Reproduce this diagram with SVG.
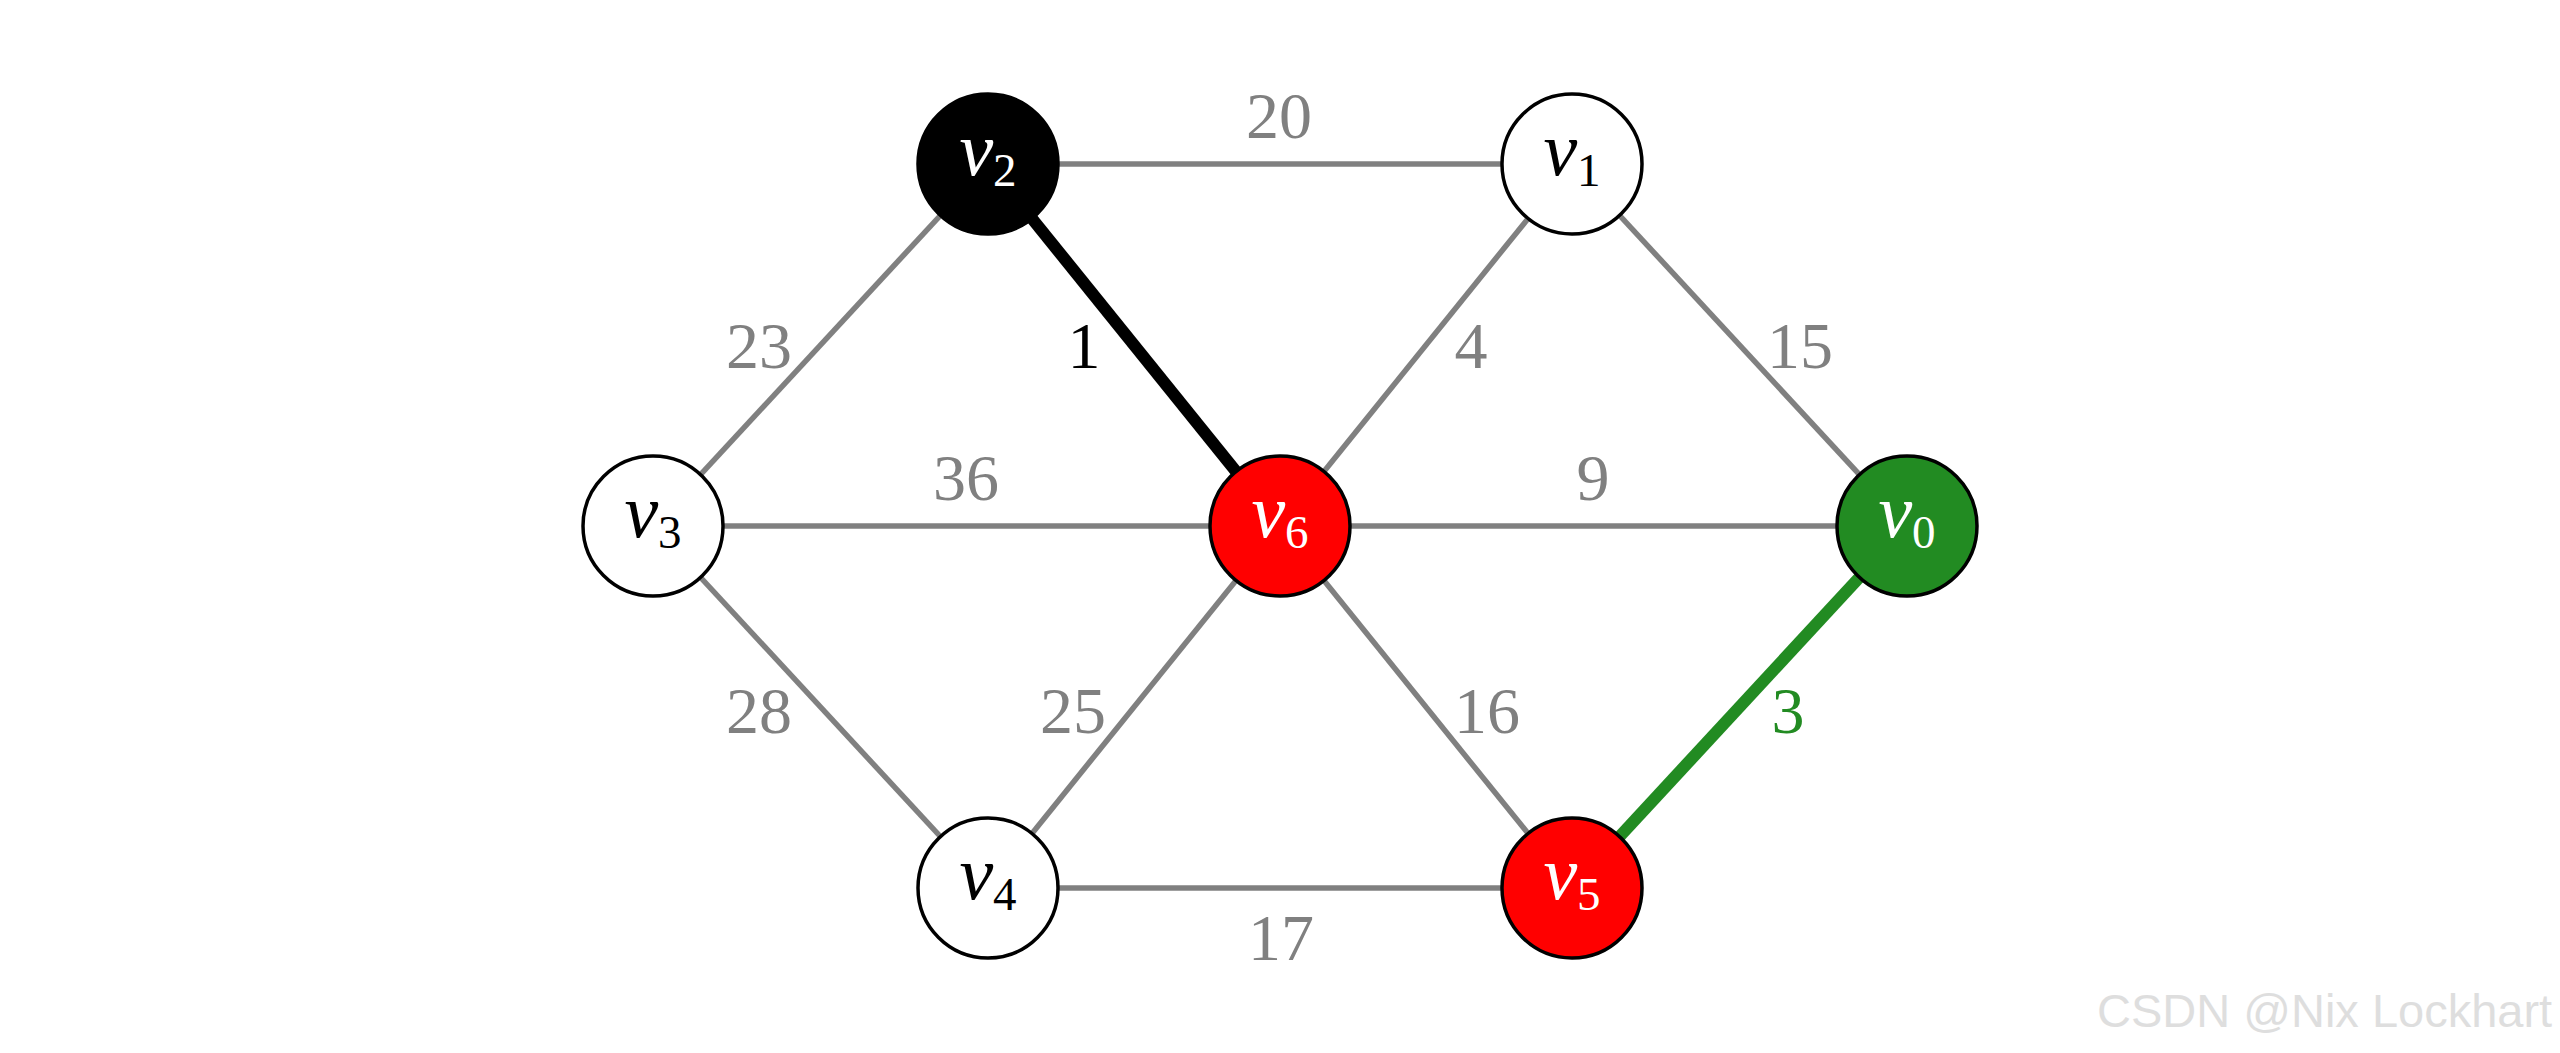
<svg xmlns="http://www.w3.org/2000/svg" width="2560" height="1053" viewBox="0 0 2560 1053">
<style>
.e{stroke:#808080;stroke-width:5.5;fill:none}
.eb{stroke:#000;stroke-width:12;fill:none}
.eg{stroke:#228B22;stroke-width:12;fill:none}
.w{font-family:"Liberation Serif","DejaVu Serif",serif;font-size:66px;fill:#808080;text-anchor:middle}
.n{stroke:#000;stroke-width:3.5}
.nl{font-family:"Liberation Serif","DejaVu Serif",serif;font-size:76px;text-anchor:middle}
.sub{font-size:47px;font-style:normal}
</style>
<rect width="2560" height="1053" fill="#fff"/>
<g id="connectors">
<line class="e" x1="988" y1="164" x2="1572" y2="164"/>
<line class="e" x1="653" y1="526" x2="988" y2="164"/>
<line class="e" x1="653" y1="526" x2="1280" y2="526"/>
<line class="e" x1="653" y1="526" x2="988" y2="888"/>
<line class="e" x1="1280" y1="526" x2="1572" y2="164"/>
<line class="e" x1="1572" y1="164" x2="1907" y2="526"/>
<line class="e" x1="1280" y1="526" x2="1907" y2="526"/>
<line class="e" x1="988" y1="888" x2="1280" y2="526"/>
<line class="e" x1="1280" y1="526" x2="1572" y2="888"/>
<line class="e" x1="988" y1="888" x2="1572" y2="888"/>
<line class="eb" x1="988" y1="164" x2="1280" y2="526"/>
<line class="eg" x1="1907" y1="526" x2="1572" y2="888"/>
<text class="w" x="1279" y="138">20</text>
<text class="w" x="759" y="368">23</text>
<text class="w" x="1084" y="368" style="fill:#000">1</text>
<text class="w" x="1471" y="368">4</text>
<text class="w" x="1800" y="368">15</text>
<text class="w" x="966" y="500">36</text>
<text class="w" x="1593" y="500">9</text>
<text class="w" x="759" y="733">28</text>
<text class="w" x="1073" y="733">25</text>
<text class="w" x="1487" y="733">16</text>
<text class="w" x="1788" y="733" style="fill:#228B22">3</text>
<text class="w" x="1281" y="960">17</text>
</g>
<g id="v2"><circle class="n" cx="988" cy="164" r="70" fill="#000"/><text class="nl" x="988" y="175" fill="#fff"><tspan font-style="italic">v</tspan><tspan class="sub" dy="11">2</tspan></text></g>
<g id="v1"><circle class="n" cx="1572" cy="164" r="70" fill="#fff"/><text class="nl" x="1572" y="175" fill="#000"><tspan font-style="italic">v</tspan><tspan class="sub" dy="11">1</tspan></text></g>
<g id="v3"><circle class="n" cx="653" cy="526" r="70" fill="#fff"/><text class="nl" x="653" y="537" fill="#000"><tspan font-style="italic">v</tspan><tspan class="sub" dy="11">3</tspan></text></g>
<g id="v6"><circle class="n" cx="1280" cy="526" r="70" fill="#ff0000"/><text class="nl" x="1280" y="537" fill="#fff"><tspan font-style="italic">v</tspan><tspan class="sub" dy="11">6</tspan></text></g>
<g id="v0"><circle class="n" cx="1907" cy="526" r="70" fill="#228B22"/><text class="nl" x="1907" y="537" fill="#fff"><tspan font-style="italic">v</tspan><tspan class="sub" dy="11">0</tspan></text></g>
<g id="v4"><circle class="n" cx="988" cy="888" r="70" fill="#fff"/><text class="nl" x="988" y="899" fill="#000"><tspan font-style="italic">v</tspan><tspan class="sub" dy="11">4</tspan></text></g>
<g id="v5"><circle class="n" cx="1572" cy="888" r="70" fill="#ff0000"/><text class="nl" x="1572" y="899" fill="#fff"><tspan font-style="italic">v</tspan><tspan class="sub" dy="11">5</tspan></text></g>
<text x="2097" y="1027" font-family="Liberation Sans, Arial, sans-serif" font-size="47" fill="#dedede">CSDN @Nix Lockhart</text>
</svg>
